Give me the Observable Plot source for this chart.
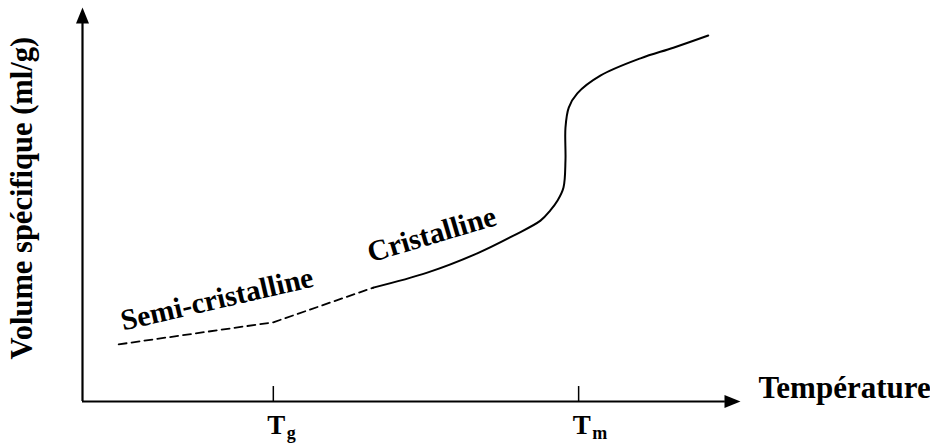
<!DOCTYPE html>
<html><head><meta charset="utf-8">
<script src="https://cdn.jsdelivr.net/npm/d3@7"></script>
<script src="https://cdn.jsdelivr.net/npm/@observablehq/plot@0.6"></script>
<style>body{margin:0;background:#fff}</style>
</head><body><div id="chart"></div>
<script>
// Semi-crystalline (dashed) branch: temperature / specific volume (arbitrary units)
const dashedT = [5.5, 29.0, 44.2];
const dashedV = [14.5, 20.1, 28.9];
// Crystalline + melting (solid) branch
const solidT = [44.2, 52.4, 60.0, 65.5, 69.6, 71.1, 72.2, 73.1, 73.4, 73.4, 73.9, 75.2, 78.7, 84.8, 89.8, 95.1];
const solidV = [28.9, 32.7, 37.6, 42.1, 45.9, 48.5, 51.0, 54.3, 61.2, 69.5, 74.6, 78.2, 82.7, 87.1, 89.8, 92.9];
// Tick positions & labels
const tickT = [29.0, 75.4];
const tickMain = ["T", "T"];
const tickSub = ["g", "m"];
// Series labels
const seriesLabels = ["Semi-cristalline", "Cristalline"];
const seriesLabelT = [6.2, 43.8];
const seriesLabelV = [18.0, 35.3];
const seriesLabelAngle = [-13, -16.5];
const xTitle = "Température";
const yTitle = "Volume spécifique (ml/g)";

const dashed = dashedT.map((t, i) => ({t, v: dashedV[i]}));
const solid = solidT.map((t, i) => ({t, v: solidV[i]}));

const arrowUp = {draw(ctx) { ctx.moveTo(0, 0); ctx.lineTo(-6.5, 16); ctx.lineTo(6.5, 16); ctx.closePath(); }};
const arrowRight = {draw(ctx) { ctx.moveTo(0, 0); ctx.lineTo(-16, -6.5); ctx.lineTo(-16, 6.5); ctx.closePath(); }};

const font = "'Liberation Serif', 'Times New Roman', serif";

const chart = Plot.plot({
  width: 930, height: 445,
  marginLeft: 82, marginRight: 190, marginTop: 7, marginBottom: 44,
  x: {domain: [0, 100], axis: null},
  y: {domain: [0, 100], axis: null},
  style: {fontFamily: font, background: "white", color: "black", overflow: "visible"},
  marks: [
    // axes
    Plot.ruleY([0], {x1: 0, x2: 97.7, stroke: "black", strokeWidth: 2.2}),
    Plot.ruleX([0], {y1: 0, y2: 96, stroke: "black", strokeWidth: 2.2}),
    Plot.dot([0], {x: 100, y: 0, symbol: arrowRight, fill: "black", stroke: null}),
    Plot.dot([0], {x: 0, y: 100, symbol: arrowUp, fill: "black", stroke: null}),
    // ticks
    Plot.ruleX(tickT, {x: d => d, y1: 0, y2: 3.8, stroke: "black", strokeWidth: 1.5}),
    Plot.text(tickT, {x: d => d, y: 0, text: (d, i) => tickMain[i], dx: -6, dy: 32, textAnchor: "start", lineAnchor: "bottom", fontSize: 27, fontWeight: "bold", fill: "black"}),
    Plot.text(tickT, {x: d => d, y: 0, text: (d, i) => tickSub[i], dx: 13.5, dy: 37, textAnchor: "start", lineAnchor: "bottom", fontSize: 18, fontWeight: "bold", fill: "black"}),
    // axis titles
    Plot.text([xTitle], {x: 100, y: 0, text: d => d, dx: 18, dy: -4, textAnchor: "start", lineAnchor: "bottom", fontSize: 31, fontWeight: "bold", fill: "black"}),
    Plot.text([yTitle], {x: 0, y: 51.6, text: d => d, dx: -60, rotate: -90, textAnchor: "middle", lineAnchor: "middle", fontSize: 30.5, fontWeight: "bold", fill: "black"}),
    // curves
    Plot.line(dashed, {x: "t", y: "v", stroke: "black", strokeWidth: 1.8, strokeDasharray: "8,5"}),
    Plot.line(solid, {x: "t", y: "v", stroke: "black", strokeWidth: 2, curve: "catmull-rom"}),
    // series labels
    Plot.text(seriesLabels, {x: (d, i) => seriesLabelT[i], y: (d, i) => seriesLabelV[i], rotate: (d, i) => seriesLabelAngle[i], text: d => d, textAnchor: "start", lineAnchor: "bottom", fontSize: 29.5, fontWeight: "bold", fill: "black"})
  ]
});
document.getElementById("chart").append(chart);
</script>
</body></html>
